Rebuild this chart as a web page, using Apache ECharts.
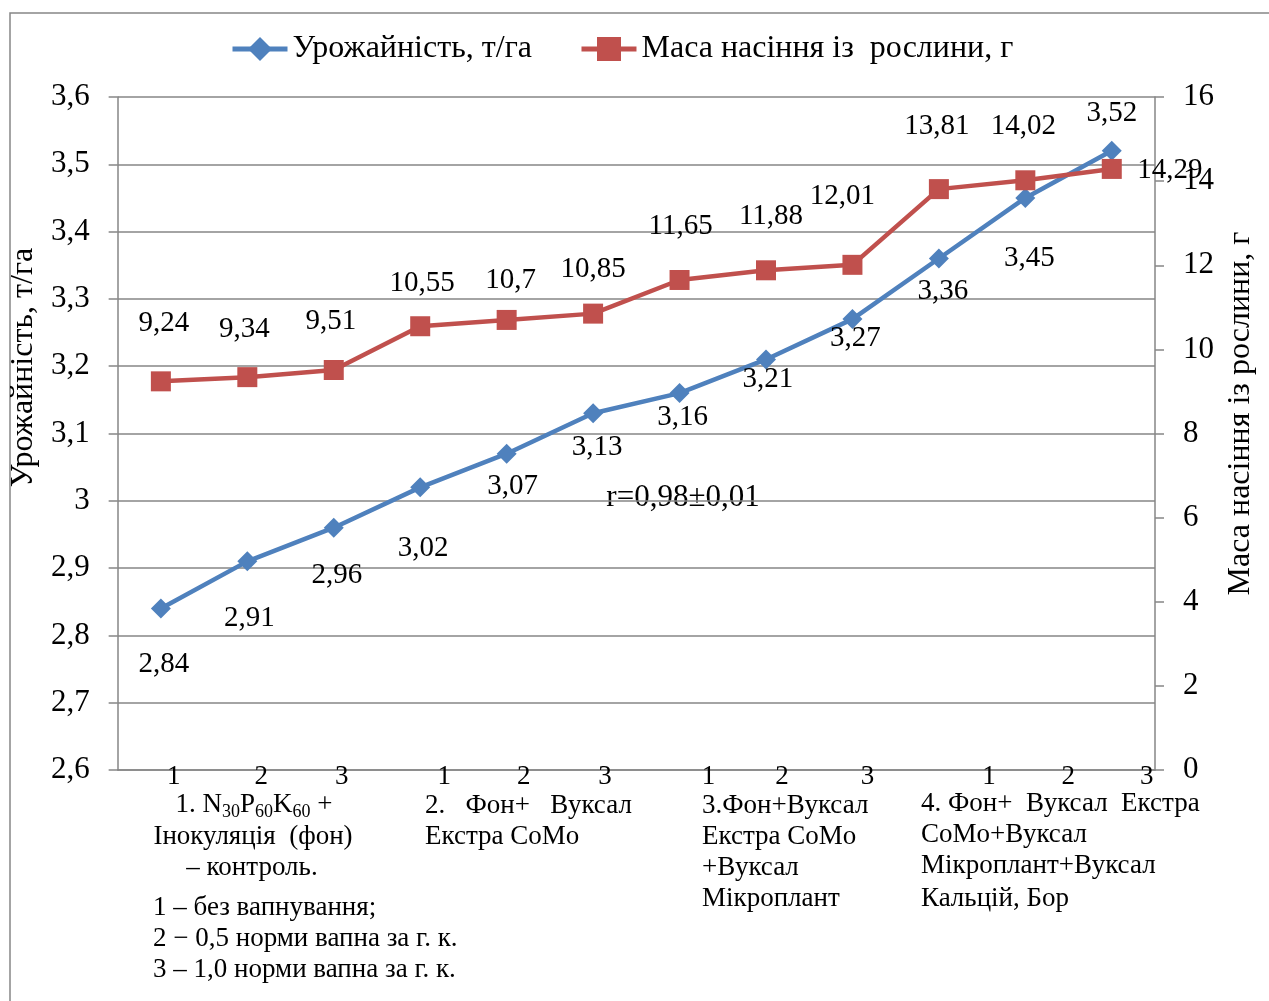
<!DOCTYPE html>
<html>
<head>
<meta charset="utf-8">
<script src="https://cdn.jsdelivr.net/npm/echarts@6/dist/echarts.min.js"></script>
<style>
  html, body { margin: 0; padding: 0; background: #fff; }
  #chart { width: 1269px; height: 1001px; }
</style>
</head>
<body>
<div id="chart"></div>
<script>
// Liming levels within each treatment group
const categories = ['1', '2', '3', '1', '2', '3', '1', '2', '3', '1', '2', '3'];
// Yield, t/ha
const yieldValues = [2.84, 2.91, 2.96, 3.02, 3.07, 3.13, 3.16, 3.21, 3.27, 3.36, 3.45, 3.52];
// Seed mass per plant, g
const seedMass = [9.24, 9.34, 9.51, 10.55, 10.7, 10.85, 11.65, 11.88, 12.01, 13.81, 14.02, 14.29];

const seriesNames = ['Урожайність, т/га', 'Маса насіння із  рослини, г'];
const leftAxisName = 'Урожайність, т/га';
const rightAxisName = 'Маса насіння із рослини, г';
const correlationText = 'r=0,98±0,01';

// Label placement around each point (px)
const yieldLabelOffsets = [[3, 56], [2, 57], [3, 48], [3, 61], [6, 33], [4, 34], [3, 24], [2, 20], [3, 19], [4, 33], [4, 60], [0, -37]];
const massLabelOffsets = [[3, -58], [-3, -48], [-3, -49], [2, -43], [4, -40], [0, -44], [1, -54], [5, -54], [-10, -68], [-2, -63], [-2, -54], [58, 1]];
const tickShift = [13, 14, 8, 24, 17, 12, 29, 16, 15, 50, 43, 35];

const FONT = '"Liberation Serif", "Times New Roman", serif';
const BLUE = '#4F81BD';
const RED = '#C0504D';
const GRAY = '#868686';

const comma = v => String(Math.round(v * 100) / 100).replace('.', ',');

const tickRich = {};
tickShift.forEach((s, i) => {
  tickRich['t' + i] = { padding: [0, 0, 0, 2 * s], fontSize: 27, fontFamily: FONT, color: '#000' };
});

const chart = echarts.init(document.getElementById('chart'), null, { renderer: 'canvas' });

const textLine = (text, x, y, align, size) => ({
  type: 'text',
  style: {
    text: text, x: x, y: y, align: align || 'left', verticalAlign: 'middle',
    fontSize: size || 27, fontFamily: FONT, fill: '#000'
  }
});

chart.setOption({
  animation: false,
  backgroundColor: '#fff',
  textStyle: { fontFamily: FONT },
  legend: {
    left: 230,
    top: 33,
    padding: 0,
    itemWidth: 55,
    itemHeight: 30,
    itemGap: 47,
    lineStyle: { width: 5 },
    textStyle: { fontSize: 32, fontFamily: FONT, color: '#000' },
    data: seriesNames
  },
  grid: { left: 117, right: 114, top: 97, bottom: 231, containLabel: false },
  xAxis: {
    type: 'category',
    data: categories,
    boundaryGap: true,
    axisLine: { lineStyle: { color: GRAY, width: 1.5 } },
    axisTick: { show: false },
    axisLabel: {
      margin: -7,
      interval: 0,
      formatter: (v, i) => '{t' + i + '|' + v + '}',
      rich: tickRich
    }
  },
  yAxis: [
    {
      type: 'value',
      min: 2.6,
      max: 3.6,
      interval: 0.1,
      position: 'left',
      name: leftAxisName,
      nameLocation: 'middle',
      nameRotate: 90,
      nameGap: 76,
      nameTextStyle: { fontSize: 32, fontFamily: FONT, color: '#000', padding: [0, 0, 0, 132] },
      axisLine: { show: true, lineStyle: { color: GRAY, width: 1.5 } },
      axisTick: { show: true, length: 9, lineStyle: { color: GRAY, width: 1.5 } },
      axisLabel: {
        margin: 28, fontSize: 31, fontFamily: FONT, color: '#000',
        formatter: v => String(Math.round(v * 10) / 10).replace('.', ',')
      },
      splitLine: { show: true, lineStyle: { color: GRAY, width: 1.5 } }
    },
    {
      type: 'value',
      min: 0,
      max: 16,
      interval: 2,
      position: 'right',
      name: rightAxisName,
      nameLocation: 'middle',
      nameRotate: 90,
      nameGap: 69,
      nameTextStyle: { fontSize: 32, fontFamily: FONT, color: '#000', padding: [0, 0, 0, 40] },
      axisLine: { show: true, lineStyle: { color: GRAY, width: 1.5 } },
      axisTick: { show: true, length: 9, lineStyle: { color: GRAY, width: 1.5 } },
      axisLabel: { margin: 28, fontSize: 31, fontFamily: FONT, color: '#000' },
      splitLine: { show: false }
    }
  ],
  series: [
    {
      name: seriesNames[0],
      type: 'line',
      yAxisIndex: 0,
      symbol: 'diamond',
      symbolSize: 20,
      lineStyle: { color: BLUE, width: 4.5 },
      itemStyle: { color: BLUE },
      label: {
        show: true, position: 'inside', fontSize: 29, fontFamily: FONT, color: '#000',
        formatter: p => comma(p.value)
      },
      data: yieldValues.map((v, i) => ({ value: v, label: { offset: yieldLabelOffsets[i] } }))
    },
    {
      name: seriesNames[1],
      type: 'line',
      yAxisIndex: 1,
      symbol: 'rect',
      symbolSize: 20,
      lineStyle: { color: RED, width: 4.5 },
      itemStyle: { color: RED },
      label: {
        show: true, position: 'inside', fontSize: 29, fontFamily: FONT, color: '#000',
        formatter: p => comma(p.value)
      },
      data: seedMass.map((v, i) => ({ value: v, label: { offset: massLabelOffsets[i] } }))
    }
  ],
  graphic: [
    {
      type: 'rect',
      shape: { x: 10, y: 13, width: 1290, height: 1010 },
      style: { fill: 'none', stroke: GRAY, lineWidth: 1.5 },
      silent: true
    },
    textLine(correlationText, 683, 498, 'center', 31),
    // treatment group 1
    {
      type: 'text',
      style: {
        text: '{m|1. N}{s|30}{m|P}{s|60}{m|K}{s|60}{m| +}',
        x: 254, y: 805, align: 'center', verticalAlign: 'middle',
        fontSize: 27, fontFamily: FONT, fill: '#000',
        rich: {
          m: { fontSize: 27, fontFamily: FONT, lineHeight: 32 },
          s: { fontSize: 18, fontFamily: FONT, lineHeight: 14, verticalAlign: 'bottom' }
        }
      }
    },
    textLine('Інокуляція  (фон)', 253, 837, 'center'),
    textLine('– контроль.', 252, 868, 'center'),
    textLine('1 – без вапнування;', 153, 908),
    textLine('2 − 0,5 норми вапна за г. к.', 153, 939),
    textLine('3 – 1,0 норми вапна за г. к.', 153, 970),
    // treatment group 2
    textLine('2.   Фон+   Вуксал', 425, 806),
    textLine('Екстра CoMo', 425, 837),
    // treatment group 3
    textLine('3.Фон+Вуксал', 702, 806),
    textLine('Екстра CoMo', 702, 837),
    textLine('+Вуксал', 702, 868),
    textLine('Мікроплант', 702, 899),
    // treatment group 4
    textLine('4. Фон+  Вуксал  Екстра', 921, 804),
    textLine('CoMo+Вуксал', 921, 835),
    textLine('Мікроплант+Вуксал', 921, 866),
    textLine('Кальцій, Бор', 921, 899)
  ]
});
</script>
</body>
</html>
